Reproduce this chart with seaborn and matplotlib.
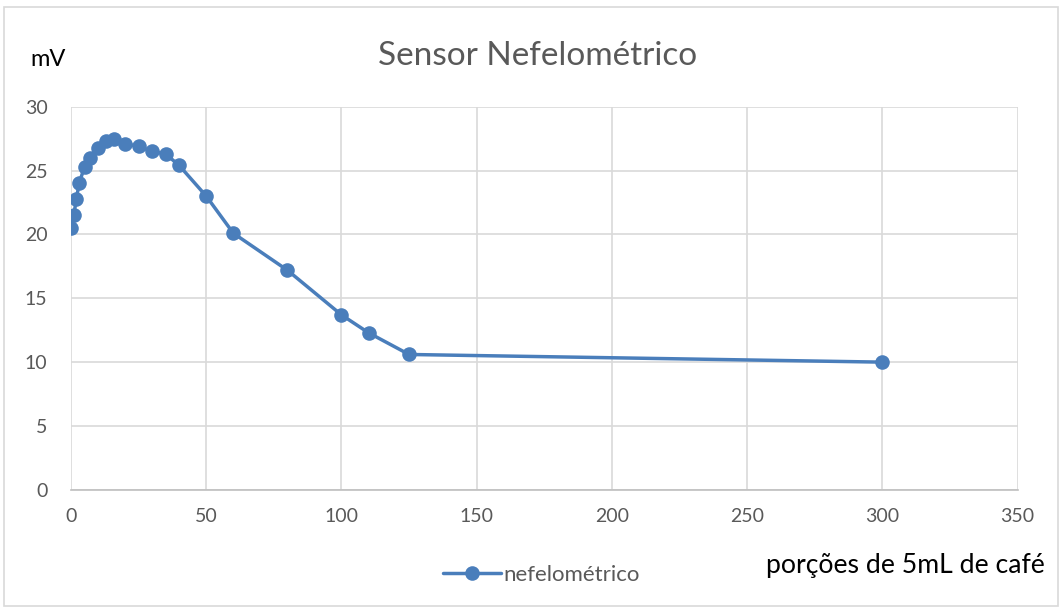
import matplotlib
matplotlib.use("Agg")
import matplotlib.pyplot as plt
import seaborn as sns
import pandas as pd
from matplotlib.patches import Rectangle
from matplotlib.lines import Line2D

# Measurements: coffee portions (5 mL each) vs nephelometric sensor output (mV)
porcoes = [0, 1, 2, 3, 5, 7, 10, 13, 16, 20, 25, 30, 35, 40, 50, 60, 80, 100, 110, 125, 300]
tensao_mv = [20.5, 21.5, 22.8, 24.0, 25.3, 26.0, 26.8, 27.3, 27.5, 27.1, 26.9, 26.5, 26.3, 25.4,
             23.0, 20.1, 17.2, 13.7, 12.3, 10.6, 10.0]
xticks = [0, 50, 100, 150, 200, 250, 300, 350]
yticks = [0, 5, 10, 15, 20, 25, 30]

df = pd.DataFrame({"porcoes": porcoes, "mV": tensao_mv})

sns.set_theme(style="white")
plt.rcParams["font.family"] = ["Lato", "DejaVu Sans"]

cor = "#4a7ebb"
fig = plt.figure(figsize=(10.6, 6.1), dpi=100)
ax = fig.add_axes([0.067, 0.197, 0.893, 0.628])

sns.lineplot(data=df, x="porcoes", y="mV", ax=ax, color=cor, marker="o",
             markersize=10.5, markeredgewidth=0, linewidth=2.5, legend=False)

ax.set_xlim(0, 350)
ax.set_ylim(0, 30)
ax.set_xticks(xticks)
ax.set_yticks(yticks)
ax.grid(True, color="#d9d9d9", linewidth=1.2)
ax.set_axisbelow(True)
for s in ["top", "right", "left"]:
    ax.spines[s].set_visible(False)
ax.spines["bottom"].set_color("#bfbfbf")
ax.spines["bottom"].set_linewidth(1.2)
ax.tick_params(axis="x", length=0, labelsize=14, labelcolor="#595959", pad=13)
ax.tick_params(axis="y", length=0, labelsize=14, labelcolor="#595959", pad=17)
ax.set_xlabel("")
ax.set_ylabel("")

fig.text(0.507, 0.909, "Sensor Nefelométrico", ha="center", va="center",
         fontsize=24, color="#595959")
fig.text(0.045, 0.903, "mV", ha="center", va="center", fontsize=17, color="#000000")
fig.text(0.986, 0.073, "porções de 5mL de café", ha="right", va="center",
         fontsize=19.2, color="#000000")

handle = Line2D([], [], color=cor, marker="o", markersize=10.5, markeredgewidth=0, linewidth=2.5)
fig.legend([handle], ["nefelométrico"], loc="center", bbox_to_anchor=(0.511, 0.057),
           frameon=False, fontsize=16, handlelength=2.6, handletextpad=0.1,
           labelcolor="#595959")

fig.patches.append(Rectangle((0.004, 0.006), 0.994, 0.982, transform=fig.transFigure,
                             fill=False, edgecolor="#d9d9d9", linewidth=1.2))

fig.savefig("out.png", dpi=100)
